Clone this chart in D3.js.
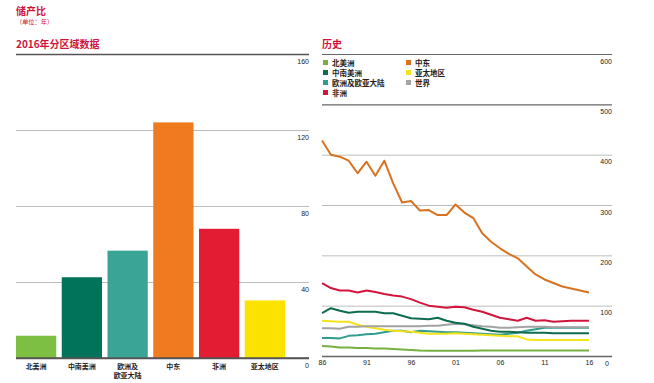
<!DOCTYPE html>
<html><head><meta charset="utf-8">
<script src="https://cdn.jsdelivr.net/npm/d3@7"></script>
<style>
html,body{margin:0;padding:0;background:#fff;}
svg{display:block;font-family:"Noto Sans CJK SC","Noto Sans",sans-serif;}
</style></head>
<body>
<svg id="c" width="654" height="383"></svg>
<script>
// ---- data ----
const regions = ["北美洲","中南美洲","欧洲及欧亚大陆","中东","非洲","亚太地区"];
const regionLabels = [["北美洲"],["中南美洲"],["欧洲及","欧亚大陆"],["中东"],["非洲"],["亚太地区"]];
const rp2016 = [11.7, 42.5, 56.5, 124, 68, 30.3];
const barTicks = [0, 40, 80, 120, 160];

const years = d3.range(1986, 2017);
const yearTicks = [1986, 1991, 1996, 2001, 2006, 2011, 2016];
const lineTicks = [0, 100, 200, 300, 400, 500, 600];
const seriesNames = ["北美洲","中南美洲","欧洲及欧亚大陆","非洲","中东","亚太地区","世界"];
const northAmerica = [20,19,17,17,16,16,15,15,14,13,12,11,10.5,10.5,10.5,10.5,10.5,10.5,11,11,11,11,11,11,11,11,11,11,11,11,11];
const southCentralAmerica = [85,95,90,86,88,88,88,85,85,80,75,74,73,76,70,66,64,58,54,50,48,48,47,46,46,46,45,45,45,45,45];
const europeEurasia = [36,36,35,40,41,43,44,47,50,50,47,50,49,48,47,47,46,45,44,43,42,44,46,50,53,56,56,56,56,56,56];
const africa = [145,135,130,130,126,130,127,123,120,118,113,106,100,98,96,98,97,92,88,82,76,73,70,76,70,71,68,69,70,70,70];
const middleEast = [428,400,396,388,363,386,358,388,343,305,308,289,290,280,280,301,285,274,244,227,214,203,194,178,162,152,145,138,134,130,126];
const asiaPacific = [70,69,68,68,62,58,55,52,50,49,48,46,44,44,44,45,44,43,42,41,40,39,39,33,32,32,32,32,32,32,32];
const world = [55,55,54,58,58,59,59,59,59,59,59,59,60,60,62,64,63,61,59,58,56,56,57,58,58,58,57,57,57,57,57];

const barColors = ["#7dbf43","#00735a","#3aa596","#ef7a1f","#e31b33","#fbe200"];
const seriesColors = {"北美洲":"#76b041","中南美洲":"#0d6b50","欧洲及欧亚大陆":"#2e9c8e","非洲":"#d2163b","中东":"#d8721f","亚太地区":"#f4e21a","世界":"#a3a3a3"};
const seriesData = {"北美洲":northAmerica,"中南美洲":southCentralAmerica,"欧洲及欧亚大陆":europeEurasia,"非洲":africa,"中东":middleEast,"亚太地区":asiaPacific,"世界":world};

const RED = "#d0143c";
const svg = d3.select("#c");

// ---- titles ----
svg.append("text").attr("x",16).attr("y",15).attr("fill",RED).attr("font-size",10).attr("font-weight","bold").text("储产比");
svg.append("text").attr("x",16).attr("y",23.5).attr("fill",RED).attr("font-size",6.2).text("（单位：年）");
svg.append("text").attr("x",16).attr("y",48).attr("fill",RED).attr("font-size",10).attr("font-weight","bold").text("2016年分区域数据");
svg.append("text").attr("x",322).attr("y",48).attr("fill",RED).attr("font-size",10).attr("font-weight","bold").text("历史");

// ---- left bar chart ----
const L = {x0:16, x1:309, yTop:54, yBot:358};
const xb = d3.scaleBand().domain(regions).range([16, 285]).paddingInner(0.12).paddingOuter(0);
const yb = d3.scaleLinear().domain([0,160]).range([L.yBot, L.yTop]);

const gL = svg.append("g");
const axL = gL.append("g").attr("transform",`translate(${L.x1},0)`)
  .call(d3.axisLeft(yb).tickValues(barTicks).tickSize(L.x1-L.x0).tickFormat(d3.format("d")));
axL.select(".domain").remove();
axL.selectAll(".tick line").attr("stroke", d => (d===0||d===160) ? "#555" : "#b5b5b5").attr("stroke-width", d => (d===0||d===160)?1.3:0.9);
axL.selectAll(".tick text").attr("x",0).attr("dy",0).attr("y",9).attr("text-anchor","end").attr("font-size",7).attr("fill","#222").attr("font-family","Liberation Sans, Arial, sans-serif");

gL.selectAll("rect.bar").data(rp2016).join("rect").attr("class","bar")
  .attr("x",(d,i)=>xb(regions[i])).attr("width",xb.bandwidth())
  .attr("y",d=>yb(d)).attr("height",d=>yb(0)-yb(d))
  .attr("fill",(d,i)=>barColors[i]);
gL.append("line").attr("x1",L.x0).attr("x2",L.x1).attr("y1",yb(0)).attr("y2",yb(0)).attr("stroke","#555").attr("stroke-width",1.3);

regionLabels.forEach((lines,i)=>{
  lines.forEach((s,j)=>{
    gL.append("text").attr("x",xb(regions[i])+xb.bandwidth()/2).attr("y",368.5+j*9.5)
      .attr("text-anchor","middle").attr("font-size",7).attr("font-weight","bold").attr("fill","#222").text(s);
  });
});

// ---- right line chart ----
const R = {x0:322, x1:612, yTop:54, yBot:356};
const xl = d3.scaleLinear().domain([1986,2016]).range([322, 589]);
const yl = d3.scaleLinear().domain([0,600]).range([R.yBot, R.yTop]);

const gR = svg.append("g");
const axR = gR.append("g").attr("transform",`translate(${R.x1},0)`)
  .call(d3.axisLeft(yl).tickValues(lineTicks).tickSize(R.x1-R.x0).tickFormat(d3.format("d")));
axR.select(".domain").remove();
axR.selectAll(".tick line").attr("stroke", d => (d===0||d===600||d===500) ? "#666" : "#b5b5b5").attr("stroke-width", d => (d===0)?1.6:(d===600||d===500)?1.1:0.9);
axR.selectAll(".tick text").attr("x",d=>d===0?-3:0).attr("dy",0).attr("y",9).attr("text-anchor","end").attr("font-size",7).attr("fill","#222").attr("font-family","Liberation Sans, Arial, sans-serif");

const axX = gR.append("g").attr("transform",`translate(0,${R.yBot})`)
  .call(d3.axisBottom(xl).tickValues(yearTicks).tickSize(0).tickFormat(d=>String(d).slice(2)));
axX.select(".domain").remove();
axX.selectAll(".tick text").attr("y",9).attr("dy",0).attr("font-size",7).attr("fill","#222").attr("font-family","Liberation Sans, Arial, sans-serif");

const legendCols = [["北美洲","中南美洲","欧洲及欧亚大陆","非洲"],["中东","亚太地区","世界"]];
legendCols.forEach((col,ci)=>{
  col.forEach((name,ri)=>{
    const lx = 323 + ci*83, ly = 63 + ri*10;
    gR.append("rect").attr("x",lx).attr("y",ly-3).attr("width",5).attr("height",5).attr("fill",seriesColors[name]);
    gR.append("text").attr("x",lx+9).attr("y",ly+2.5).attr("font-size",7.5).attr("font-weight","bold").attr("fill","#222").text(name);
  });
});

const line = d3.line().x((d,i)=>xl(years[i])).y(d=>yl(d)).curve(d3.curveLinear);
const drawOrder = ["北美洲","欧洲及欧亚大陆","亚太地区","世界","中南美洲","非洲","中东"];
gR.selectAll("path.series").data(drawOrder).join("path").attr("class","series")
  .attr("d",n=>line(seriesData[n])).attr("fill","none").attr("stroke",n=>seriesColors[n])
  .attr("stroke-width",2).attr("stroke-linejoin","round");
</script>
</body></html>
